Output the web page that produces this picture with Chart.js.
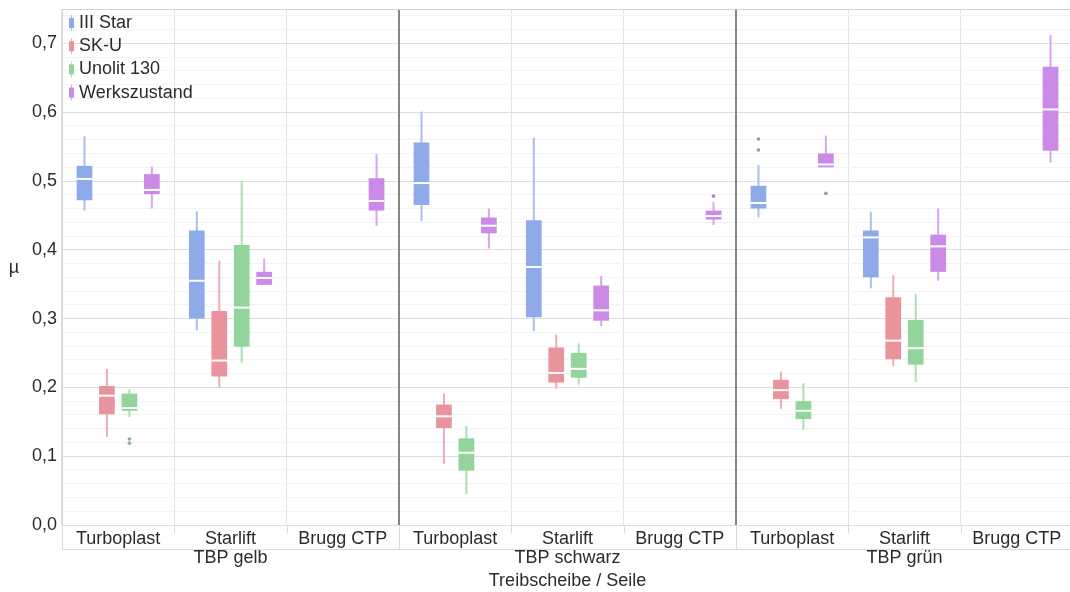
<!DOCTYPE html>
<html>
<head>
<meta charset="utf-8">
<script src="https://cdn.jsdelivr.net/npm/chart.js@4.4.1/dist/chart.umd.min.js"></script>
<style>
  html, body { margin: 0; padding: 0; background: #fff; overflow: hidden; }
  #wrap { position: relative; width: 1076px; height: 592px; }
</style>
</head>
<body>
<div id="wrap"><canvas id="c" width="1076" height="592"></canvas></div>
<script>
// Kategorien (Seile) je Treibscheibe
const categories = ['Turboplast', 'Starlift', 'Brugg CTP',
                    'Turboplast', 'Starlift', 'Brugg CTP',
                    'Turboplast', 'Starlift', 'Brugg CTP'];
const groups = ['TBP gelb', 'TBP schwarz', 'TBP grün'];
const seriesNames = ['III Star', 'SK-U', 'Unolit 130', 'Werkszustand'];
const yTickValues = [0, 0.1, 0.2, 0.3, 0.4, 0.5, 0.6, 0.7];

// [min, Q1, Median, Q3, max] pro Kategorie
const iiiStar = [
  [0.457, 0.472, 0.503, 0.522, 0.565],
  [0.283, 0.300, 0.355, 0.428, 0.456],
  null,
  [0.442, 0.465, 0.497, 0.556, 0.601],
  [0.282, 0.302, 0.375, 0.443, 0.563],
  null,
  [0.447, 0.460, 0.468, 0.493, 0.523],
  [0.344, 0.360, 0.418, 0.428, 0.455],
  null,
];
const skU = [
  [0.128, 0.161, 0.188, 0.202, 0.227],
  [0.200, 0.216, 0.239, 0.311, 0.384],
  null,
  [0.089, 0.141, 0.158, 0.175, 0.191],
  [0.198, 0.207, 0.221, 0.258, 0.277],
  null,
  [0.169, 0.183, 0.196, 0.211, 0.223],
  [0.231, 0.241, 0.268, 0.331, 0.363],
  null,
];
const unolit130 = [
  [0.157, 0.166, 0.170, 0.191, 0.197],
  [0.236, 0.259, 0.316, 0.407, 0.500],
  null,
  [0.045, 0.079, 0.105, 0.126, 0.144],
  [0.204, 0.214, 0.227, 0.250, 0.264],
  null,
  [0.138, 0.154, 0.166, 0.180, 0.206],
  [0.208, 0.233, 0.257, 0.298, 0.336],
  null,
];
const werkszustand = [
  [0.460, 0.481, 0.487, 0.510, 0.521],
  [0.349, 0.349, 0.359, 0.368, 0.387],
  [0.435, 0.457, 0.471, 0.504, 0.539],
  [0.402, 0.424, 0.435, 0.447, 0.460],
  [0.289, 0.297, 0.312, 0.348, 0.362],
  [0.436, 0.444, 0.449, 0.457, 0.469],
  [0.520, 0.520, 0.524, 0.540, 0.566],
  [0.355, 0.368, 0.405, 0.422, 0.460],
  [0.527, 0.544, 0.604, 0.666, 0.712],
];

// Ausreisser pro Kategorie
const iiiStarOutliers = [[], [], [], [], [], [], [0.561, 0.545], [], []];
const skUOutliers = [[], [], [], [], [], [], [], [], []];
const unolit130Outliers = [[0.125, 0.119], [], [], [], [], [], [], [], []];
const werkszustandOutliers = [[], [], [], [], [], [0.478], [0.482], [], []];

const stats = [iiiStar, skU, unolit130, werkszustand];
const outliers = [iiiStarOutliers, skUOutliers, unolit130Outliers, werkszustandOutliers];

// Farben
const boxColors = ['#8eaae9', '#e9939c', '#93d49d', '#cb8ae6'];
const whiskerColors = ['#a9bdf0', '#eeadb3', '#addfb4', '#d6a5ee'];
const dotColors = ['#8f98b8', '#c08a92', '#8fae95', '#a98cb8'];
const FONT = "'Liberation Sans', Arial, sans-serif";
const TEXT = '#2b2b2b';

const fmt = v => v.toFixed(1).replace('.', ',');
const isMajor = v => Math.abs(v * 10 - Math.round(v * 10)) < 1e-6;

const boxPlotPlugin = {
  id: 'boxplot',
  beforeDatasetsDraw(chart) {
    const ctx = chart.ctx, y = chart.scales.y, area = chart.chartArea;
    const step = (area.right - area.left) / categories.length;
    ctx.save();

    // dunkle Trennlinien zwischen den Treibscheiben
    ctx.strokeStyle = '#858585';
    ctx.lineWidth = 2;
    ctx.beginPath();
    [3, 6].forEach(i => {
      const px = Math.round(area.left + i * step);
      ctx.moveTo(px, area.top);
      ctx.lineTo(px, area.bottom);
    });
    ctx.stroke();

    // Whisker
    stats.forEach((s, di) => {
      const meta = chart.getDatasetMeta(di);
      s.forEach((d, i) => {
        if (!d) return;
        const el = meta.data[i];
        ctx.strokeStyle = whiskerColors[di];
        ctx.lineWidth = 2;
        ctx.beginPath();
        ctx.moveTo(el.x, y.getPixelForValue(d[0]));
        ctx.lineTo(el.x, y.getPixelForValue(d[4]));
        ctx.stroke();
      });
    });
    ctx.restore();
  },
  afterDatasetsDraw(chart) {
    const ctx = chart.ctx, y = chart.scales.y;
    ctx.save();
    stats.forEach((s, di) => {
      const meta = chart.getDatasetMeta(di);
      s.forEach((d, i) => {
        if (!d) return;
        const el = meta.data[i];
        const ym = y.getPixelForValue(d[2]);
        ctx.strokeStyle = '#ffffff';
        ctx.lineWidth = 2;
        ctx.beginPath();
        ctx.moveTo(el.x - el.width / 2, ym);
        ctx.lineTo(el.x + el.width / 2, ym);
        ctx.stroke();
      });
      outliers[di].forEach((list, i) => {
        const el = meta.data[i];
        list.forEach(v => {
          ctx.fillStyle = dotColors[di];
          ctx.beginPath();
          ctx.arc(el.x, y.getPixelForValue(v), 1.8, 0, Math.PI * 2);
          ctx.fill();
        });
      });
    });
    ctx.restore();
  },
  afterDraw(chart) {
    const ctx = chart.ctx, area = chart.chartArea;
    const step = (area.right - area.left) / categories.length;
    ctx.save();

    // Rahmen oben
    ctx.strokeStyle = '#d4d4d4';
    ctx.lineWidth = 1;
    ctx.beginPath();
    ctx.moveTo(area.left, area.top + 0.5);
    ctx.lineTo(area.right, area.top + 0.5);
    ctx.stroke();

    // Beschriftungsband unter der Achse
    const bandBottom = area.bottom + 24;
    ctx.strokeStyle = '#dadada';
    ctx.beginPath();
    ctx.moveTo(area.left, bandBottom + 0.5);
    ctx.lineTo(area.right, bandBottom + 0.5);
    for (let i = 0; i <= categories.length; i++) {
      const px = Math.round(area.left + i * step) + 0.5;
      ctx.moveTo(px, area.bottom);
      ctx.lineTo(px, i % 3 === 0 ? bandBottom : area.bottom + 8);
    }
    ctx.stroke();

    // Gruppenbeschriftung
    ctx.fillStyle = TEXT;
    ctx.font = '18px ' + FONT;
    ctx.textAlign = 'center';
    ctx.textBaseline = 'middle';
    groups.forEach((g, gi) => {
      const cx = area.left + (gi * 3 + 1.5) * step;
      ctx.fillText(g, cx, 558);
    });
    ctx.fillText('Treibscheibe / Seile', (area.left + area.right) / 2, 581);

    // y-Achsentitel
    ctx.fillText('µ', 14, 268);

    // Legende
    ctx.textAlign = 'left';
    seriesNames.forEach((name, i) => {
      const cy = 23 + i * 23.2;
      ctx.strokeStyle = whiskerColors[i];
      ctx.lineWidth = 1;
      ctx.beginPath();
      ctx.moveTo(71.5, cy - 8);
      ctx.lineTo(71.5, cy + 8);
      ctx.stroke();
      ctx.fillStyle = boxColors[i];
      ctx.fillRect(69, cy - 5, 5, 10);
      ctx.fillStyle = TEXT;
      ctx.fillText(name, 79, cy);
    });
    ctx.restore();
  }
};

new Chart(document.getElementById('c'), {
  type: 'bar',
  data: {
    labels: categories,
    datasets: stats.map((s, di) => ({
      label: seriesNames[di],
      data: s.map(d => (d ? [d[1], d[3]] : null)),
      backgroundColor: boxColors[di],
      borderWidth: 0,
      categoryPercentage: 0.8,
      barPercentage: 0.7,
    })),
  },
  options: {
    responsive: false,
    animation: false,
    layout: { padding: { top: 9, right: 3, left: 0, bottom: 0 } },
    plugins: {
      legend: { display: false },
      tooltip: { enabled: false },
    },
    scales: {
      x: {
        grid: {
          offset: true,
          drawTicks: false,
          color: '#e2e2e2',
        },
        border: { display: false },
        ticks: {
          color: TEXT,
          font: { family: FONT, size: 18 },
          padding: 3,
          autoSkip: false,
          maxRotation: 0,
        },
        afterFit: s => { s.height = 67; s.paddingLeft = 0; s.paddingRight = 0; },
      },
      y: {
        min: 0,
        max: 0.75,
        grid: {
          drawTicks: false,
          color: c => (isMajor(c.tick.value) ? '#dedede' : '#f3f3f3'),
        },
        border: { color: '#d4d4d4' },
        ticks: {
          stepSize: 0.02,
          autoSkip: false,
          maxTicksLimit: 100,
          includeBounds: false,
          padding: 5,
          color: TEXT,
          font: { family: FONT, size: 18 },
          callback: v => (isMajor(v) && yTickValues.some(t => Math.abs(t - v) < 1e-6) ? fmt(v) : ''),
        },
        afterFit: s => { s.width = 62; s.paddingTop = 0; s.paddingBottom = 0; },
      },
    },
  },
  plugins: [boxPlotPlugin],
});
</script>
</body>
</html>
